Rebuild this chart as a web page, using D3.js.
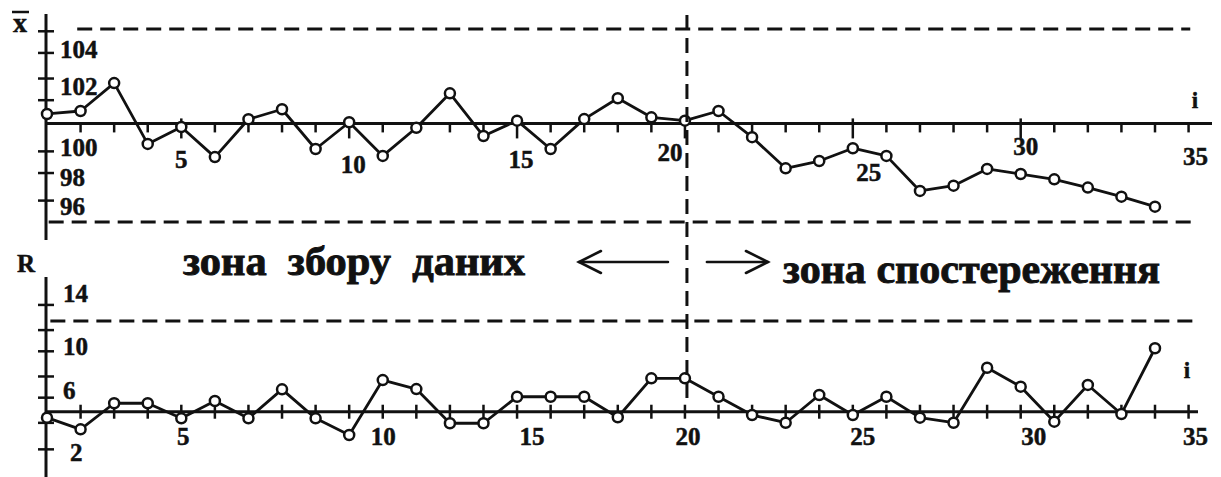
<!DOCTYPE html>
<html><head><meta charset="utf-8">
<script src="https://cdn.jsdelivr.net/npm/d3@7"></script>
<style>
html,body{margin:0;padding:0;background:#fff;}
svg{display:block;}
text{font-family:"Liberation Serif","Times New Roman",serif;font-weight:bold;fill:#111;stroke:#111;stroke-width:0.5px;}
</style>
</head><body>
<svg id="c" width="1221" height="477"></svg>
<script>
// ---------- data ----------
const samples = [1,2,3,4,5,6,7,8,9,10,11,12,13,14,15,16,17,18,19,20,21,22,23,24,25,26,27,28,29,30,31,32,33,34];
const xbarValues = [100.70,100.85,102.27,99.18,100.04,98.51,100.43,100.94,98.92,100.28,98.57,100.00,101.75,99.58,100.36,98.92,100.44,101.50,100.53,100.36,100.85,99.52,97.94,98.31,98.96,98.57,96.79,97.06,97.91,97.65,97.38,96.96,96.50,95.99];
const rValues = [4.59,3.71,5.68,5.68,4.54,5.85,4.54,6.73,4.54,3.28,7.43,6.75,4.17,4.17,6.17,6.17,6.17,4.62,7.56,7.56,6.17,4.79,4.21,6.30,4.79,6.17,4.59,4.21,8.36,6.93,4.29,7.06,4.87,9.83];
const xbarCenter = 100.22, xbarUCL = 105.02, xbarLCL = 95.21;
const rCenter = 5.04, rUCL = 11.89;
const splitSample = 20;
const xTickMarks = [2,3,4,5,6,7,8,9,10,11,12,13,14,15,16,17,18,19,20,21,22,23,24,25,26,27,28,29,30,31,32,33,34,35];
const xTickLabels = [5,10,15,20,25,30,35];
const xbarTickMarks = [104.9,103.8,102.5,101.4,98.8,97.7,96.3];
const xbarTickLabels = [104,102,100,98,96];
const rTickMarks = [13.1,11.2,9.6,7.7,6.1,4.2,2.2];
const rTickLabels = [14,10,6,2];
const zoneLeftText = "зона  збору  даних";
const zoneRightText = "зона спостереження";

// ---------- layout tweaks (pixel offsets of labels as drawn in the reference) ----------
const xbarLabelDy = [0, -2, 20, 10, 0];
const rLabelDy = [0, 0, -9, 0];
const topXLabelDx = [0, 4, 4, -15, 16, 5, 7];
const topXLabelDy = [36, 41, 36, 29, 49, 23, 33];
const botXLabelDx = [2, 34, 15, 3, 10, 13, 7];

// ---------- drawing ----------
const svg = d3.select("#c");
svg.append("rect").attr("width",1221).attr("height",477).attr("fill","#fff");
const x = d3.scaleLinear().domain([1,34]).range([47,1155]);
const yTop = d3.scaleLinear().domain([96,104]).range([206.5,49]);
const yBot = d3.scaleLinear().domain([2,14]).range([452,293]);
const axisX = x(1) - 1;
const ink = "#111";
const dash = "15,8";

function line(g, x1,y1,x2,y2,w,da){
  const l = g.append("line").attr("x1",x1).attr("y1",y1).attr("x2",x2).attr("y2",y2)
    .attr("stroke",ink).attr("stroke-width",w);
  if (da) l.attr("stroke-dasharray",da);
  return l;
}

// ---------- top chart (X-bar) ----------
const gT = svg.append("g");
line(gT, x(1.9), yTop(xbarUCL), x(35.05), yTop(xbarUCL), 3, dash);
line(gT, x(1.05), yTop(xbarLCL), x(35.3), yTop(xbarLCL), 3, dash);
line(gT, axisX, 14, axisX, 240, 3);
gT.selectAll("line.yt").data(xbarTickMarks).join("line").attr("class","yt")
  .attr("x1",axisX-8).attr("x2",axisX+8).attr("y1",d=>yTop(d)).attr("y2",d=>yTop(d))
  .attr("stroke",ink).attr("stroke-width",2.5);
gT.selectAll("text.yl").data(xbarTickLabels).join("text").attr("class","yl")
  .attr("x",axisX+14)
  .attr("y",(d,i)=> yTop(d) + xbarLabelDy[i])
  .attr("dominant-baseline","central").attr("font-size",25).text(d=>d);
line(gT, axisX, yTop(xbarCenter), 1212, yTop(xbarCenter), 3);
gT.selectAll("line.xt").data(xTickMarks).join("line").attr("class","xt")
  .attr("x1",d=>x(d)).attr("x2",d=>x(d))
  .attr("y1",d=> yTop(xbarCenter) - (d%5===0 && d<35 ? 5 : 0))
  .attr("y2",d=> yTop(xbarCenter) + (d%5===0 && d<35 ? 15 : 9))
  .attr("stroke",ink).attr("stroke-width",2.5);
gT.selectAll("text.xl").data(xTickLabels).join("text").attr("class","xl")
  .attr("x",(d,i)=> x(d) + topXLabelDx[i]).attr("text-anchor","middle")
  .attr("y",(d,i)=> yTop(xbarCenter) + topXLabelDy[i]).attr("dominant-baseline","central")
  .attr("font-size",25).text(d=>d);
gT.append("text").attr("x",1195).attr("y",108).attr("text-anchor","middle").attr("font-size",23).text("i");
gT.append("text").attr("x",20).attr("y",32).attr("text-anchor","middle").attr("font-size",28).text("x");
line(gT, 12, 12, 29, 12, 2.5);
const lineTop = d3.line().x((d,i)=>x(samples[i])).y(d=>yTop(d));
gT.append("path").attr("d",lineTop(xbarValues)).attr("fill","none").attr("stroke",ink)
  .attr("stroke-width",2.8).attr("stroke-linejoin","round");
gT.selectAll("circle").data(xbarValues).join("circle")
  .attr("cx",(d,i)=>x(samples[i])).attr("cy",d=>yTop(d)).attr("r",5)
  .attr("fill","#fff").attr("stroke",ink).attr("stroke-width",2.5);

// ---------- bottom chart (R) ----------
const gB = svg.append("g");
line(gB, x(1.1), yBot(rUCL), x(35.3), yBot(rUCL), 3, dash);
line(gB, axisX, 277, axisX, 477, 3);
gB.selectAll("line.yt").data(rTickMarks).join("line").attr("class","yt")
  .attr("x1",axisX-8).attr("x2",axisX+8).attr("y1",d=>yBot(d)).attr("y2",d=>yBot(d))
  .attr("stroke",ink).attr("stroke-width",2.5);
gB.selectAll("text.yl").data(rTickLabels).join("text").attr("class","yl")
  .attr("x",d=> d<5 ? axisX+24 : axisX+17).attr("y",(d,i)=>yBot(d) + rLabelDy[i])
  .attr("dominant-baseline","central").attr("font-size",25).text(d=>d);
line(gB, axisX, yBot(rCenter), 1198, yBot(rCenter), 3);
gB.selectAll("line.xt").data(xTickMarks).join("line").attr("class","xt")
  .attr("x1",d=>x(d)).attr("x2",d=>x(d))
  .attr("y1",yBot(rCenter)-7).attr("y2",yBot(rCenter)+7)
  .attr("stroke",ink).attr("stroke-width",2.5);
gB.selectAll("text.xl").data(xTickLabels).join("text").attr("class","xl")
  .attr("x",(d,i)=>x(d) + botXLabelDx[i]).attr("text-anchor","middle")
  .attr("y", yBot(rCenter)+25).attr("dominant-baseline","central")
  .attr("font-size",25).text(d=>d);
gB.append("text").attr("x",1187).attr("y",378).attr("text-anchor","middle").attr("font-size",23).text("i");
gB.append("text").attr("x",26).attr("y",272).attr("text-anchor","middle").attr("font-size",25).text("R");
const lineBot = d3.line().x((d,i)=>x(samples[i])).y(d=>yBot(d));
gB.append("path").attr("d",lineBot(rValues)).attr("fill","none").attr("stroke",ink)
  .attr("stroke-width",2.8).attr("stroke-linejoin","round");
gB.selectAll("circle").data(rValues).join("circle")
  .attr("cx",(d,i)=>x(samples[i])).attr("cy",d=>yBot(d)).attr("r",5)
  .attr("fill","#fff").attr("stroke",ink).attr("stroke-width",2.5);

// ---------- divider, arrows, zone labels ----------
const xd = x(splitSample) + 2;
line(svg, xd, 15, xd, 405, 3, dash);
const ay = 262;
const ga = svg.append("g").attr("fill","none").attr("stroke",ink).attr("stroke-width",2.6).attr("stroke-linecap","round");
ga.append("line").attr("x1",xd-108).attr("y1",ay).attr("x2",xd-19).attr("y2",ay);
ga.append("path").attr("d",`M${xd-86},${ay-11} L${xd-108},${ay} L${xd-86},${ay+11}`);
ga.append("line").attr("x1",xd+20).attr("y1",ay).attr("x2",xd+81).attr("y2",ay);
ga.append("path").attr("d",`M${xd+59},${ay-11} L${xd+81},${ay} L${xd+59},${ay+11}`);
svg.append("text").attr("x",183).attr("y",275).attr("font-size",40).style("stroke-width","0.9px")
  .style("white-space","pre").attr("textLength",342).attr("lengthAdjust","spacingAndGlyphs")
  .text(zoneLeftText);
svg.append("text").attr("x",783).attr("y",283).attr("font-size",40).style("stroke-width","0.9px")
  .style("white-space","pre").attr("textLength",377).attr("lengthAdjust","spacingAndGlyphs")
  .text(zoneRightText);
</script>
</body></html>
